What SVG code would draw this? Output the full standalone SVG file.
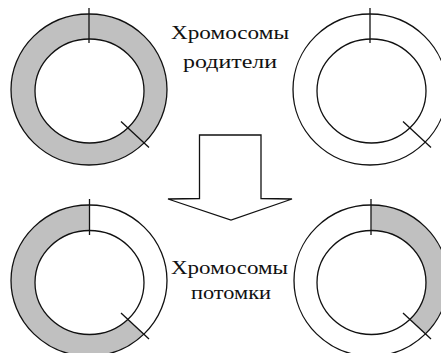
<svg xmlns="http://www.w3.org/2000/svg" width="441" height="353" viewBox="0 0 441 353">
<style>
.fill{fill:#c0c0c0;stroke:none}
.ring{fill:none;stroke:#111;stroke-width:1.3}
.tick{stroke:#111;stroke-width:1.3;fill:none}
.lbl{font-family:"Liberation Serif","Times New Roman",serif;font-size:19px;fill:#111}
</style>
<rect width="441" height="353" fill="#fff"/>
<g id="parent1">
<path class="fill" fill-rule="evenodd" d="M11,89.5 A78,75.5 0 1 0 167,89.5 A78,75.5 0 1 0 11,89.5 Z M35,91 A54.5,52 0 1 0 144,91 A54.5,52 0 1 0 35,91 Z"/>
<ellipse class="ring" cx="89" cy="89.5" rx="78" ry="75.5"/>
<ellipse class="ring" cx="89.5" cy="91" rx="54.5" ry="52"/>
<line class="tick" x1="89" y1="8" x2="89" y2="43"/>
<line class="tick" x1="121" y1="121.5" x2="149" y2="147.5"/>
</g>
<g id="parent2">
<ellipse class="ring" cx="370" cy="89.5" rx="77" ry="75.5"/>
<ellipse class="ring" cx="371.5" cy="91" rx="54.5" ry="52"/>
<line class="tick" x1="370" y1="8" x2="370" y2="43"/>
<line class="tick" x1="403" y1="121.5" x2="431" y2="147.5"/>
</g>
<g id="child1">
<path class="fill" d="M89,205 A78,75.5 0 1 0 144.2,333.9 L128,319.3 A54.5,52 0 1 1 89.5,230.5 Z"/>
<ellipse class="ring" cx="89" cy="280.5" rx="78" ry="75.5"/>
<ellipse class="ring" cx="89.5" cy="282.5" rx="54.5" ry="52"/>
<line class="tick" x1="89.5" y1="199" x2="89.5" y2="235"/>
<line class="tick" x1="121" y1="313" x2="149" y2="339"/>
</g>
<g id="child2">
<path class="fill" d="M371,205 A77,75.5 0 0 1 425.4,333.9 L409.5,319.3 A54.5,52 0 0 0 371.5,230.5 Z"/>
<ellipse class="ring" cx="371" cy="280.5" rx="77" ry="75.5"/>
<ellipse class="ring" cx="371.5" cy="282.5" rx="54.5" ry="52"/>
<line class="tick" x1="371" y1="199" x2="371" y2="235"/>
<line class="tick" x1="403" y1="313" x2="431" y2="339"/>
</g>
<g id="arrow">
<path class="tick" fill="#fff" d="M199.5,135 L261,135 L261,198.5 L292,199 L231,220 L168,199 L199.5,198.5 Z"/>
</g>
<g id="labels">
<text class="lbl" x="171" y="39" textLength="118" lengthAdjust="spacingAndGlyphs">Хромосомы</text>
<text class="lbl" x="183" y="68" textLength="94" lengthAdjust="spacingAndGlyphs">родители</text>
<text class="lbl" x="171" y="274" textLength="117" lengthAdjust="spacingAndGlyphs">Хромосомы</text>
<text class="lbl" x="191" y="299" textLength="80" lengthAdjust="spacingAndGlyphs">потомки</text>
</g>
</svg>
